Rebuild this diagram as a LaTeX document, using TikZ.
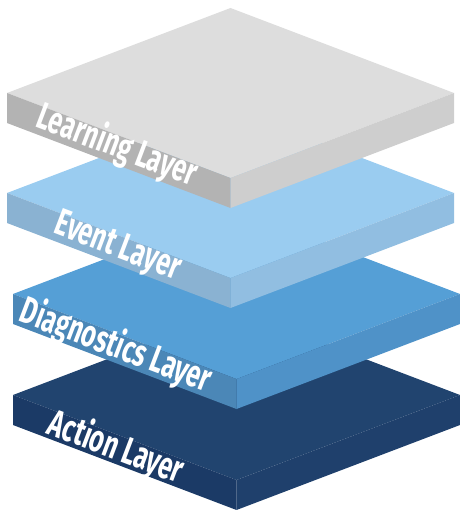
\documentclass[tikz,border=0pt]{standalone}
\usepackage{fontspec}
\newfontfamily\layerfont{Fira Sans}
\usepackage{tikz}
\usetikzlibrary{positioning}

\definecolor{learntop}{HTML}{DDDDDD}
\definecolor{learnleft}{HTML}{B3B3B3}
\definecolor{learnright}{HTML}{CECECE}
\definecolor{eventtop}{HTML}{9ACCF0}
\definecolor{eventleft}{HTML}{8AB2D2}
\definecolor{eventright}{HTML}{91BEE1}
\definecolor{diagtop}{HTML}{559FD6}
\definecolor{diagleft}{HTML}{4B87B7}
\definecolor{diagright}{HTML}{4F92C8}
\definecolor{actiontop}{HTML}{21446F}
\definecolor{actionleft}{HTML}{1B3A66}
\definecolor{actionright}{HTML}{1F406C}

% one slab: left corner x, y, then the colour prefix
\newcommand\slab[3]{%
  \fill[#3top] (#1,#2) -- ++(223.5,-85) -- ++(223.5,85) -- ++(-223.5,85) -- cycle;
  \fill[#3left] (#1,#2) -- ++(223.5,85) -- ++(0,30) -- ++(-223.5,-85) -- cycle;
  \fill[#3right] (#1+223.5,#2+85) -- ++(223.5,-85) -- ++(0,30) -- ++(-223.5,85) -- cycle;
}

\begin{document}
\begin{tikzpicture}[
      x=1pt, y=-1pt,
      layerlabel/.style={text=white, inner sep=0pt, rotate=-20.8, xscale=0.66,
        font=\layerfont\bfseries\fontsize{38}{38}\selectfont}
    ]
    \useasboundingbox (0,0) rectangle (459,510);
    % bottom up, so the upper slabs cover the lower ones
    \slab{13}{395}{action}
    \node[layerlabel] (action) at (116,448) {Action Layer};
    \slab{13}{294}{diag}
    \node[layerlabel] (diag) at (116,346) {Diagnostics Layer};
    \slab{7}{193}{event}
    \node[layerlabel] (event) at (117,248) {Event Layer};
    \slab{7}{93}{learn}
    \node[layerlabel] (learn) at (117,146) {Learning Layer};
  \end{tikzpicture}
\end{document}
